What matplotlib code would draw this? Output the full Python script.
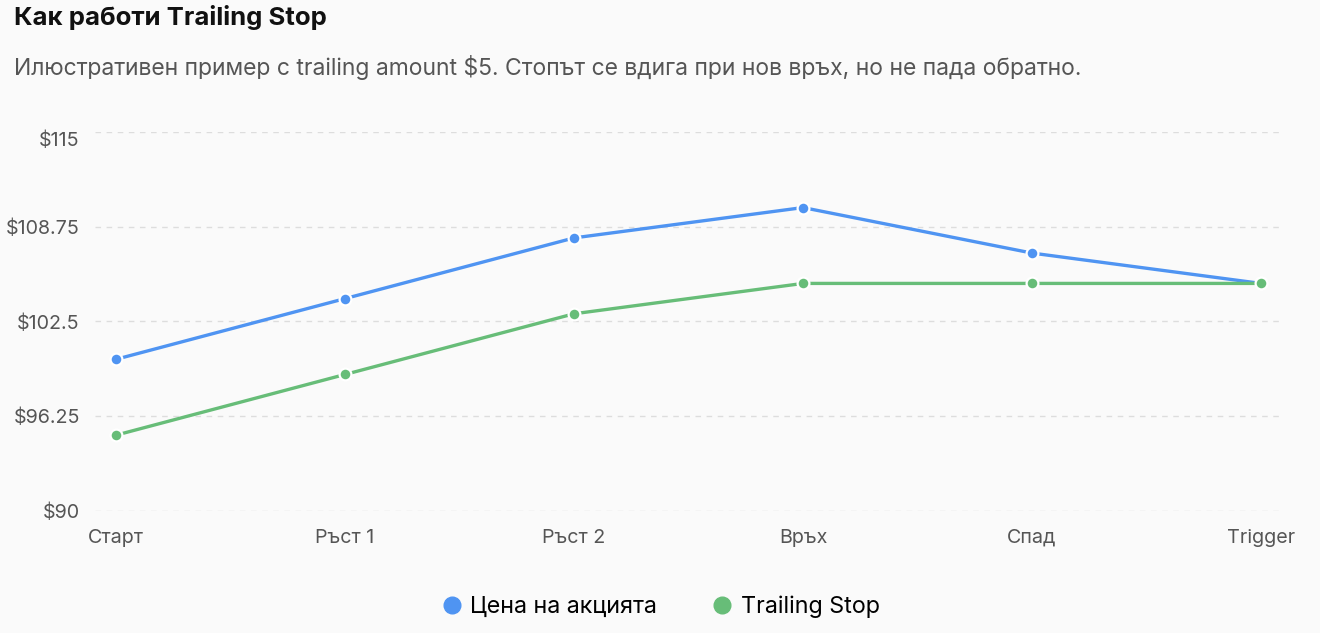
import matplotlib
matplotlib.use('Agg')
import matplotlib.pyplot as plt
import matplotlib.transforms as mtransforms
from matplotlib.lines import Line2D

plt.rcParams['font.family'] = ['Inter', 'DejaVu Sans']

# данни
stages = ['Старт', 'Ръст 1', 'Ръст 2', 'Връх', 'Спад', 'Trigger']
price = [100, 104, 108, 110, 107, 105]
stop = [95, 99, 103, 105, 105, 105]
y_ticks = [90, 96.25, 102.5, 108.75, 115]
y_labels = ['$90', '$96.25', '$102.5', '$108.75', '$115']

BLUE = '#4f94f2'
GREEN = '#67bd78'
BG = '#fafafa'

W, H = 1320, 633
fig = plt.figure(figsize=(W / 100, H / 100), dpi=100, facecolor=BG)
ax = fig.add_axes([95 / W, 1 - 511 / H, (1280 - 95) / W, (511 - 131.7) / H])
ax.set_facecolor(BG)

x = list(range(len(stages)))
ax.plot(x, price, color=BLUE, lw=2.4, marker='o', ms=8.5, mfc=BLUE,
        mec='white', mew=1.6, zorder=3, label='Цена на акцията')
ax.plot(x, stop, color=GREEN, lw=2.4, marker='o', ms=8.5, mfc=GREEN,
        mec='white', mew=1.6, zorder=3, label='Trailing Stop')

ax.set_xlim(-0.092, 5.083)
ax.set_ylim(90, 115)
ax.set_yticks(y_ticks)
ax.set_yticklabels(y_labels)
ax.set_xticks(x)
ax.set_xticklabels(stages)
ax.tick_params(axis='both', length=0, labelsize=14.2, labelcolor='#555555')
ax.tick_params(axis='y', pad=11)
ax.tick_params(axis='x', pad=13)
ax.grid(axis='y', color='#dddddd', linestyle=(0, (4, 4)), lw=1)
for s in ax.spines.values():
    s.set_visible(False)

# горният етикет е малко по-надолу, както в оригинала
top_lbl = ax.get_yticklabels()[-1]
top_lbl.set_transform(top_lbl.get_transform()
                      + mtransforms.ScaledTranslation(0, -7 / 100, fig.dpi_scale_trans))

fig.text(14 / W, 1 - 18 / H, 'Как работи Trailing Stop', fontsize=18.5,
         fontweight='bold', color='#111111', va='center', ha='left')
fig.text(14 / W, 1 - 68 / H,
         'Илюстративен пример с trailing amount $5. Стопът се вдига при нов връх, но не пада обратно.',
         fontsize=16.5, color='#555555', va='center', ha='left')

handles = [Line2D([], [], ls='none', marker='o', ms=12, color=BLUE),
           Line2D([], [], ls='none', marker='o', ms=12, color=GREEN)]
fig.legend(handles, ['Цена на акцията', 'Trailing Stop'], loc='center',
           bbox_to_anchor=(0.5, 1 - 607 / H), ncol=2, frameon=False,
           fontsize=16.8, handletextpad=0.3, columnspacing=2.3, handlelength=1.0)

plt.savefig('out.png', dpi=100, facecolor=BG)
